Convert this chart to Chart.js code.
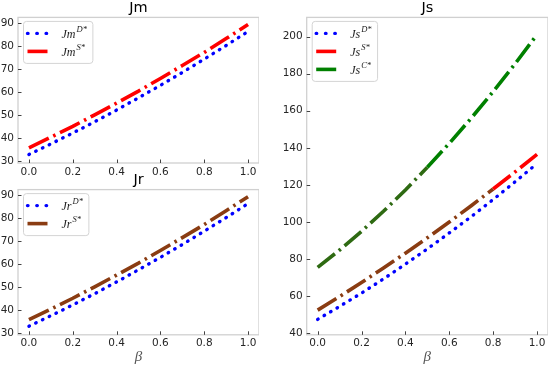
<!DOCTYPE html>
<html>
<head>
<meta charset="utf-8">
<script src="https://cdn.jsdelivr.net/npm/chart.js@4.4.1/dist/chart.umd.min.js"></script>
<style>
  body { margin: 0; background: #fff; width: 550px; height: 368px; position: relative; overflow: hidden; }
  .panel { position: absolute; }
</style>
</head>
<body>
<div class="panel" style="left:0;top:0;width:259px;height:180px"><canvas id="jm"></canvas></div>
<div class="panel" style="left:0;top:172px;width:259px;height:196px"><canvas id="jr"></canvas></div>
<div class="panel" style="left:280px;top:0;width:268px;height:368px"><canvas id="js"></canvas></div>
<script>
// values
const beta = [0, 0.1, 0.2, 0.3, 0.4, 0.5, 0.6, 0.7, 0.8, 0.9, 1.0];

const jmD = [32.9, 37.5, 42.2, 47.1, 52.2, 57.5, 62.9, 68.5, 74.3, 80.2, 86.3];
const jmS = [35.8, 40.4, 45.1, 50.1, 55.2, 60.4, 65.9, 71.5, 77.2, 83.2, 89.3];

const jrD = [32.9, 37.5, 42.2, 47.1, 52.2, 57.5, 62.9, 68.5, 74.3, 80.2, 86.3];
const jrS = [35.8, 40.4, 45.1, 50.1, 55.2, 60.4, 65.9, 71.5, 77.2, 83.2, 89.3];

const jsD = [47.5, 54.5, 61.7, 69.3, 77.3, 85.5, 94.1, 102.9, 112.1, 121.7, 131.5];
const jsS = [52.5, 59.8, 67.4, 75.2, 83.2, 91.5, 100.0, 108.8, 117.8, 127.0, 136.5];
const jsC = [75.5, 84.9, 95.0, 105.8, 117.3, 129.5, 142.4, 156.0, 170.3, 185.3, 201.0];

const xTicks = [0, 0.2, 0.4, 0.6, 0.8, 1.0];
const jmTicks = [30, 40, 50, 60, 70, 80, 90];
const jrTicks = [30, 40, 50, 60, 70, 80, 90];
const jsTicks = [40, 60, 80, 100, 120, 140, 160, 180, 200];

const BLUE = "#0000ff";
const RED = "#ff0000";
const GREEN = "#008000";
const BROWN = "#8a3c12";
const DARKGREEN = "#2e6a12";

Chart.defaults.font.family = "'DejaVu Sans', sans-serif";
Chart.defaults.color = "#262626";

function pairs(ys) {
  return ys.map((y, i) => ({ x: beta[i], y: y }));
}

function dotted(label, ys) {
  return {
    label: label, data: pairs(ys), borderColor: BLUE, borderWidth: 3.4,
    borderDash: [0.5, 7], borderCapStyle: "round", pointRadius: 0,
    legendDash: [0.5, 8.8], legendCap: "round"
  };
}

function dashDot(label, ys, color) {
  return {
    label: label, data: pairs(ys), borderColor: color, borderWidth: 3.6,
    borderDash: [22, 5, 2.5, 5], borderCapStyle: "butt", pointRadius: 0,
    legendDash: [], legendCap: "butt"
  };
}

// frame + inward ticks, matplotlib style
const frameTicks = {
  id: "frameTicks",
  afterDraw(chart) {
    const ctx = chart.ctx, a = chart.chartArea;
    const xs = chart.scales.x, ys = chart.scales.y;
    ctx.save();
    ctx.strokeStyle = "#d0d0d0";
    ctx.lineWidth = 1.3;
    ctx.strokeRect(a.left, a.top, a.right - a.left, a.bottom - a.top);
    ctx.strokeStyle = "#444";
    ctx.lineWidth = 1;
    ctx.beginPath();
    xs.ticks.forEach((t) => {
      const px = Math.round(xs.getPixelForValue(t.value)) + 0.5;
      ctx.moveTo(px, a.bottom);
      ctx.lineTo(px, a.bottom - 3.5);
    });
    ys.ticks.forEach((t) => {
      const py = Math.round(ys.getPixelForValue(t.value)) + 0.5;
      ctx.moveTo(a.left, py);
      ctx.lineTo(a.left + 3.5, py);
    });
    ctx.stroke();
    ctx.restore();
  }
};

// legend box with superscripts, drawn in the top-left corner of the plot
const mathLegend = {
  id: "mathLegend",
  afterDraw(chart) {
    const ctx = chart.ctx, a = chart.chartArea;
    const sets = chart.data.datasets;
    const mainFont = "italic 12px 'Liberation Serif'";
    const supFont = "italic 8.5px 'Liberation Serif'";
    const x0 = a.left + 5.5, y0 = a.top + 4;
    ctx.save();
    let w = 0;
    sets.forEach((d) => {
      const parts = d.label.split("^");
      ctx.font = mainFont;
      let tw = ctx.measureText(parts[0]).width;
      ctx.font = supFont;
      tw += ctx.measureText(parts[1]).width + 1;
      w = Math.max(w, tw);
    });
    const bw = 38 + w + 6, bh = sets.length * 18 + 6;
    ctx.beginPath();
    ctx.roundRect(x0, y0, bw, bh, 3);
    ctx.fillStyle = "rgba(255,255,255,0.85)";
    ctx.fill();
    ctx.strokeStyle = "#d4d4d4";
    ctx.lineWidth = 1;
    ctx.stroke();
    sets.forEach((d, i) => {
      const cy = y0 + 12 + i * 18;
      const parts = d.label.split("^");
      ctx.beginPath();
      ctx.setLineDash(d.legendDash);
      ctx.lineCap = d.legendCap;
      ctx.lineWidth = d.borderWidth;
      ctx.strokeStyle = d.legendColor || d.borderColor;
      ctx.moveTo(x0 + 4, cy);
      ctx.lineTo(x0 + 24, cy);
      ctx.stroke();
      ctx.setLineDash([]);
      ctx.fillStyle = "#222";
      ctx.textBaseline = "middle";
      ctx.font = mainFont;
      ctx.fillText(parts[0], x0 + 38, cy + 1);
      const mw = ctx.measureText(parts[0]).width;
      ctx.font = supFont;
      ctx.fillText(parts[1], x0 + 38 + mw + 1, cy - 3.5);
    });
    ctx.restore();
  }
};

function makeChart(id, title, datasets, yTicks, yMin, yMax, opts) {
  const ctx = document.getElementById(id).getContext("2d");
  return new Chart(ctx, {
    type: "line",
    data: { datasets: datasets },
    options: {
      responsive: true,
      maintainAspectRatio: false,
      animation: false,
      devicePixelRatio: 1,
      layout: { padding: 0 },
      plugins: {
        legend: { display: false },
        tooltip: { enabled: false },
        title: {
          display: true, text: title, color: "#000", fullSize: false,
          font: { size: 14.5, weight: "normal" },
          padding: { top: opts.titleTop, bottom: opts.titleBottom }
        }
      },
      scales: {
        x: {
          type: "linear", min: -0.05, max: 1.05,
          grid: { display: false, drawTicks: false },
          border: { display: false },
          afterBuildTicks: (s) => { s.ticks = xTicks.map((v) => ({ value: v })); },
          afterFit: (s) => { s.height = opts.xHeight; },
          ticks: { font: { size: 10.5 }, padding: 2.5, maxRotation: 0, callback: (v) => v.toFixed(1) },
          title: {
            display: opts.xTitle, text: "β", color: "#555",
            font: { family: "'Liberation Serif'", style: "italic", size: 15 },
            padding: { top: 0, bottom: 2 }
          }
        },
        y: {
          type: "linear", min: yMin, max: yMax,
          grid: { display: false, drawTicks: false },
          border: { display: false },
          afterBuildTicks: (s) => { s.ticks = yTicks.map((v) => ({ value: v })); },
          afterFit: (s) => { s.width = opts.yWidth; },
          ticks: { font: { size: 10.5 }, padding: 4 }
        }
      }
    },
    plugins: [frameTicks, mathLegend]
  });
}

makeChart("jm", "Jm", [
  dotted("Jm^D*", jmD),
  dashDot("Jm^S*", jmS, RED)
], jmTicks, 29.2, 92.4, { titleTop: 0, titleBottom: 0, xHeight: 17, yWidth: 18, xTitle: false });

makeChart("jr", "Jr", [
  dotted("Jr^D*", jrD),
  dashDot("Jr^S*", jrS, BROWN)
], jrTicks, 29.2, 92.4, { titleTop: 0, titleBottom: 0.2, xHeight: 33.2, yWidth: 18, xTitle: true });

const jsSet = [
  dotted("Js^D*", jsD),
  dashDot("Js^S*", jsS, RED),
  dashDot("Js^C*", jsC, GREEN)
];
// lower stretch of the red and green curves looks darker in the reference
jsSet[1].segment = { borderColor: (c) => (c.p0.parsed.x < 0.8 ? BROWN : undefined) };
jsSet[2].segment = { borderColor: (c) => (c.p0.parsed.x < 0.45 ? DARKGREEN : undefined) };

makeChart("js", "Js", jsSet, jsTicks, 39.2, 210.3,
  { titleTop: 0, titleBottom: 0, xHeight: 33.2, yWidth: 26.7, xTitle: true });
</script>
</body>
</html>
